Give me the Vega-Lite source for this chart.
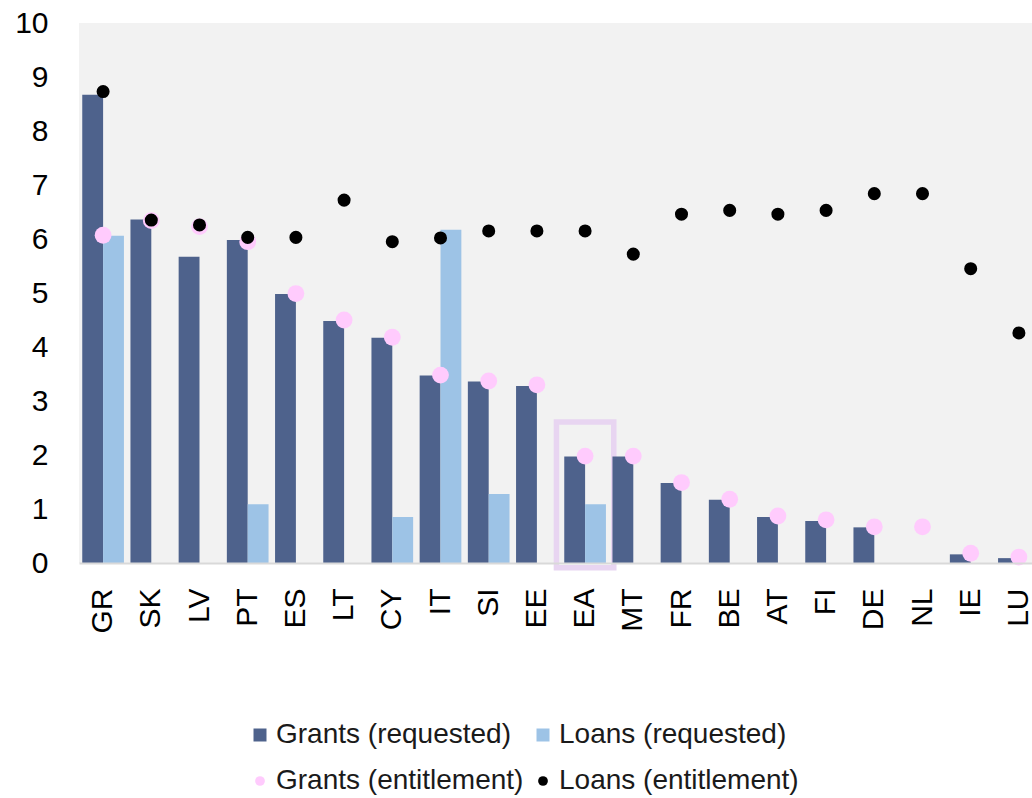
{
  "$schema": "https://vega.github.io/schema/vega-lite/v6.json",
  "width": 964,
  "height": 540,
  "autosize": {"type": "none"},
  "padding": {"left": 79, "top": 23, "right": 0, "bottom": 235},
  "background": "white",
  "config": {
    "view": {"fill": "#f2f2f2", "stroke": null},
    "font": "Liberation Sans"
  },
  "datasets": {
    "main": [
      {"c": "GR", "s": "Grants (requested)", "v": 8.67},
      {"c": "GR", "s": "Loans (requested)", "v": 6.06},
      {"c": "GR", "s": "Grants (entitlement)", "v": 6.07},
      {"c": "GR", "s": "Loans (entitlement)", "v": 8.73},
      {"c": "SK", "s": "Grants (requested)", "v": 6.36},
      {"c": "SK", "s": "Grants (entitlement)", "v": 6.34},
      {"c": "SK", "s": "Loans (entitlement)", "v": 6.35},
      {"c": "LV", "s": "Grants (requested)", "v": 5.67},
      {"c": "LV", "s": "Grants (entitlement)", "v": 6.23},
      {"c": "LV", "s": "Loans (entitlement)", "v": 6.26},
      {"c": "PT", "s": "Grants (requested)", "v": 5.98},
      {"c": "PT", "s": "Loans (requested)", "v": 1.09},
      {"c": "PT", "s": "Grants (entitlement)", "v": 5.95},
      {"c": "PT", "s": "Loans (entitlement)", "v": 6.03},
      {"c": "ES", "s": "Grants (requested)", "v": 4.98},
      {"c": "ES", "s": "Grants (entitlement)", "v": 4.99},
      {"c": "ES", "s": "Loans (entitlement)", "v": 6.03},
      {"c": "LT", "s": "Grants (requested)", "v": 4.48},
      {"c": "LT", "s": "Grants (entitlement)", "v": 4.5},
      {"c": "LT", "s": "Loans (entitlement)", "v": 6.72},
      {"c": "CY", "s": "Grants (requested)", "v": 4.17},
      {"c": "CY", "s": "Loans (requested)", "v": 0.85},
      {"c": "CY", "s": "Grants (entitlement)", "v": 4.18},
      {"c": "CY", "s": "Loans (entitlement)", "v": 5.95},
      {"c": "IT", "s": "Grants (requested)", "v": 3.47},
      {"c": "IT", "s": "Loans (requested)", "v": 6.17},
      {"c": "IT", "s": "Grants (entitlement)", "v": 3.48},
      {"c": "IT", "s": "Loans (entitlement)", "v": 6.02},
      {"c": "SI", "s": "Grants (requested)", "v": 3.36},
      {"c": "SI", "s": "Loans (requested)", "v": 1.28},
      {"c": "SI", "s": "Grants (entitlement)", "v": 3.37},
      {"c": "SI", "s": "Loans (entitlement)", "v": 6.15},
      {"c": "EE", "s": "Grants (requested)", "v": 3.28},
      {"c": "EE", "s": "Grants (entitlement)", "v": 3.3},
      {"c": "EE", "s": "Loans (entitlement)", "v": 6.15},
      {"c": "EA", "s": "Grants (requested)", "v": 1.97},
      {"c": "EA", "s": "Loans (requested)", "v": 1.09},
      {"c": "EA", "s": "Grants (entitlement)", "v": 1.98},
      {"c": "EA", "s": "Loans (entitlement)", "v": 6.15},
      {"c": "MT", "s": "Grants (requested)", "v": 1.97},
      {"c": "MT", "s": "Grants (entitlement)", "v": 1.98},
      {"c": "MT", "s": "Loans (entitlement)", "v": 5.72},
      {"c": "FR", "s": "Grants (requested)", "v": 1.48},
      {"c": "FR", "s": "Grants (entitlement)", "v": 1.49},
      {"c": "FR", "s": "Loans (entitlement)", "v": 6.46},
      {"c": "BE", "s": "Grants (requested)", "v": 1.17},
      {"c": "BE", "s": "Grants (entitlement)", "v": 1.18},
      {"c": "BE", "s": "Loans (entitlement)", "v": 6.53},
      {"c": "AT", "s": "Grants (requested)", "v": 0.85},
      {"c": "AT", "s": "Grants (entitlement)", "v": 0.87},
      {"c": "AT", "s": "Loans (entitlement)", "v": 6.46},
      {"c": "FI", "s": "Grants (requested)", "v": 0.78},
      {"c": "FI", "s": "Grants (entitlement)", "v": 0.8},
      {"c": "FI", "s": "Loans (entitlement)", "v": 6.53},
      {"c": "DE", "s": "Grants (requested)", "v": 0.66},
      {"c": "DE", "s": "Grants (entitlement)", "v": 0.67},
      {"c": "DE", "s": "Loans (entitlement)", "v": 6.84},
      {"c": "NL", "s": "Grants (entitlement)", "v": 0.67},
      {"c": "NL", "s": "Loans (entitlement)", "v": 6.84},
      {"c": "IE", "s": "Grants (requested)", "v": 0.16},
      {"c": "IE", "s": "Grants (entitlement)", "v": 0.18},
      {"c": "IE", "s": "Loans (entitlement)", "v": 5.45},
      {"c": "LU", "s": "Grants (requested)", "v": 0.09},
      {"c": "LU", "s": "Grants (entitlement)", "v": 0.11},
      {"c": "LU", "s": "Loans (entitlement)", "v": 4.26}
    ],
    "highlight": [
      {"c": "EA", "top": 2.61, "bot": -0.09}
    ]
  },
  "layer": [
    {
      "data": {"name": "highlight"},
      "mark": {"type": "rect", "fill": "#ffffff", "fillOpacity": 0, "stroke": "#e8d5f1", "strokeWidth": 5.5, "width": {"band": 1.375}},
      "encoding": {
        "x": {"field": "c", "type": "nominal"},
        "y": {"field": "top", "type": "quantitative"},
        "y2": {"field": "bot"}
      }
    },
    {
      "data": {"name": "main"},
      "transform": [{"filter": "datum.s == 'Grants (requested)' || datum.s == 'Loans (requested)'"}],
      "mark": {"type": "bar"},
      "encoding": {
        "x": {
          "field": "c", "type": "nominal",
          "scale": {"domain": ["GR","SK","LV","PT","ES","LT","CY","IT","SI","EE","EA","MT","FR","BE","AT","FI","DE","NL","IE","LU"], "paddingInner": 0.135, "paddingOuter": 0.0675},
          "axis": {"title": null, "labelAngle": -90, "labelFontSize": 30, "labelColor": "#000000", "ticks": false, "domainColor": "#d9d9d9", "domainWidth": 2, "labelPadding": 25, "labelFont": "Liberation Sans"}
        },
        "xOffset": {"field": "s", "type": "nominal", "scale": {"domain": ["Grants (requested)", "Loans (requested)"], "paddingInner": 0, "paddingOuter": 0}},
        "y": {
          "field": "v", "type": "quantitative",
          "scale": {"domain": [0, 10], "nice": false},
          "axis": {"title": null, "values": [0,1,2,3,4,5,6,7,8,9,10], "domain": false, "ticks": false, "grid": false, "labelFontSize": 30, "labelPadding": 31, "labelColor": "#000000", "labelFlush": false, "labelOverlap": false, "labelFont": "Liberation Sans"}
        },
        "color": {
          "field": "s", "type": "nominal",
          "scale": {"domain": ["Grants (requested)", "Loans (requested)", "Grants (entitlement)", "Loans (entitlement)"], "range": ["#4e628c", "#9dc3e6", "#ffcbfd", "#000000"]},
          "legend": {
            "title": null, "orient": "none", "legendX": 167, "legendY": 698, "columns": 2, "direction": "horizontal",
            "labelFontSize": 28, "labelColor": "#1a1a1a", "labelFont": "Liberation Sans", "labelLimit": 0,
            "labelOffset": 2, "columnPadding": 5, "rowPadding": 18, "symbolStrokeWidth": 0,
            "encode": {"symbols": {"update": {"size": {"signal": "indexof(['Grants (requested)','Loans (requested)'], datum.value) >= 0 ? 169 : 95"}}}}
          }
        }
      }
    },
    {
      "data": {"name": "main"},
      "transform": [{"filter": "datum.s == 'Grants (entitlement)'"}],
      "mark": {"type": "point", "filled": true, "opacity": 1, "size": 283},
      "encoding": {
        "x": {"field": "c", "type": "nominal"},
        "y": {"field": "v", "type": "quantitative"},
        "color": {"field": "s", "type": "nominal"},
        "shape": {"field": "s", "type": "nominal", "scale": {"domain": ["Grants (requested)", "Loans (requested)", "Grants (entitlement)", "Loans (entitlement)"], "range": ["square", "square", "circle", "circle"]}}
      }
    },
    {
      "data": {"name": "main"},
      "transform": [{"filter": "datum.s == 'Loans (entitlement)'"}],
      "mark": {"type": "point", "filled": true, "opacity": 1, "size": 170},
      "encoding": {
        "x": {"field": "c", "type": "nominal"},
        "y": {"field": "v", "type": "quantitative"},
        "color": {"field": "s", "type": "nominal"},
        "shape": {"field": "s", "type": "nominal"}
      }
    }
  ]
}
